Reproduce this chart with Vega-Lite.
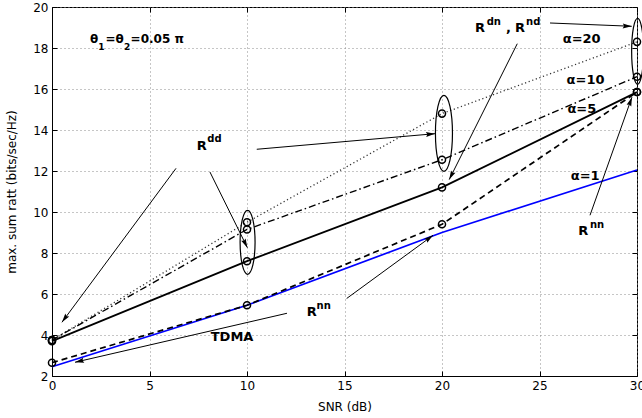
{
  "$schema": "https://vega.github.io/schema/vega-lite/v6.json",
  "width": 585,
  "height": 369,
  "autosize": {"type": "none"},
  "padding": {"left": 52, "top": 7, "right": 5, "bottom": 42},
  "background": "white",
  "config": {
    "view": {"stroke": "black", "strokeWidth": 1},
    "font": "DejaVu Sans",
    "axis": {
      "domainColor": "black",
      "domainWidth": 1,
      "tickColor": "black",
      "tickSize": -5,
      "tickWidth": 1,
      "labelColor": "black",
      "labelFont": "DejaVu Sans",
      "labelFontSize": 12,
      "titleFont": "DejaVu Sans",
      "titleFontSize": 12,
      "titleFontWeight": "normal",
      "titleColor": "black",
      "gridColor": "#8c8c8c",
      "gridDash": [1, 3],
      "gridWidth": 1,
      "gridOpacity": 1,
      "labelFlush": false,
      "labelOverlap": false
    }
  },
  "datasets": {
    "curves": [
      {"snr": 0, "rate": 3.75, "series": "α=20"},
      {"snr": 10, "rate": 9.5, "series": "α=20"},
      {"snr": 20, "rate": 14.8, "series": "α=20"},
      {"snr": 30, "rate": 18.3, "series": "α=20"},
      {"snr": 0, "rate": 3.75, "series": "α=10"},
      {"snr": 10, "rate": 9.15, "series": "α=10"},
      {"snr": 20, "rate": 12.55, "series": "α=10"},
      {"snr": 30, "rate": 16.6, "series": "α=10"},
      {"snr": 0, "rate": 3.7, "series": "α=5"},
      {"snr": 10, "rate": 7.6, "series": "α=5"},
      {"snr": 20, "rate": 11.2, "series": "α=5"},
      {"snr": 30, "rate": 15.85, "series": "α=5"},
      {"snr": 0, "rate": 2.65, "series": "α=1"},
      {"snr": 10, "rate": 5.45, "series": "α=1"},
      {"snr": 20, "rate": 9.4, "series": "α=1"},
      {"snr": 30, "rate": 15.85, "series": "α=1"},
      {"snr": 0, "rate": 2.45, "series": "TDMA"},
      {"snr": 10, "rate": 5.45, "series": "TDMA"},
      {"snr": 20, "rate": 9.0, "series": "TDMA"},
      {"snr": 30, "rate": 12.05, "series": "TDMA"}
    ],
    "rings": [
      {"snr": 10.03, "rate": 8.52, "grp": "a"},
      {"snr": 20.1, "rate": 13.84, "grp": "b"},
      {"snr": 30.03, "rate": 17.84, "grp": "c"}
    ],
    "arrows": [
      {"snr": 6.36, "rate": 12.13, "snr2": 0.51, "rate2": 4.62},
      {"snr": 8.1, "rate": 11.95, "snr2": 10.02, "rate2": 8.26},
      {"snr": 10.5, "rate": 13.06, "snr2": 19.64, "rate2": 13.82},
      {"snr": 23.86, "rate": 18.21, "snr2": 20.37, "rate2": 11.58},
      {"snr": 25.54, "rate": 19.22, "snr2": 29.73, "rate2": 19.06},
      {"snr": 27.59, "rate": 9.84, "snr2": 29.74, "rate2": 15.6},
      {"snr": 15.11, "rate": 5.78, "snr2": 19.54, "rate2": 8.86},
      {"snr": 12.05, "rate": 5.06, "snr2": 1.18, "rate2": 2.67}
    ],
    "notes": [
      {"snr": 7.42, "rate": 13.04, "t": "R", "kind": "main"},
      {"snr": 21.69, "rate": 18.78, "t": "R", "kind": "main"},
      {"snr": 23.28, "rate": 18.78, "t": ",", "kind": "main"},
      {"snr": 23.74, "rate": 18.78, "t": "R", "kind": "main"},
      {"snr": 26.99, "rate": 8.9, "t": "R", "kind": "main"},
      {"snr": 13.06, "rate": 4.91, "t": "R", "kind": "main"},
      {"snr": 8.14, "rate": 3.71, "t": "TDMA", "kind": "main"},
      {"snr": 26.19, "rate": 18.24, "t": "α=20", "kind": "main"},
      {"snr": 26.39, "rate": 16.26, "t": "α=10", "kind": "main"},
      {"snr": 26.43, "rate": 14.83, "t": "α=5", "kind": "main"},
      {"snr": 26.6, "rate": 11.55, "t": "α=1", "kind": "main"},
      {"snr": 7.96, "rate": 13.41, "t": "dd", "kind": "sup"},
      {"snr": 22.29, "rate": 19.12, "t": "dn", "kind": "sup"},
      {"snr": 24.31, "rate": 19.12, "t": "nd", "kind": "sup"},
      {"snr": 27.59, "rate": 9.2, "t": "nn", "kind": "sup"},
      {"snr": 13.57, "rate": 5.29, "t": "nn", "kind": "sup"},
      {"snr": 1.95, "rate": 18.24, "t": "θ", "kind": "theta"},
      {"snr": 2.74, "rate": 18.24, "t": "=θ", "kind": "theta"},
      {"snr": 4.03, "rate": 18.24, "t": "=0.05 π", "kind": "theta"},
      {"snr": 2.37, "rate": 17.92, "t": "1", "kind": "sub"},
      {"snr": 3.69, "rate": 17.92, "t": "2", "kind": "sub"}
    ]
  },
  "resolve": {"axis": {"x": "independent", "y": "independent"}},
  "layer": [
    {
      "encoding": {
        "x": {
          "field": "snr",
          "type": "quantitative",
          "scale": {"domain": [0, 30], "nice": false, "zero": false},
          "axis": {
            "title": "SNR (dB)",
            "values": [0, 5, 10, 15, 20, 25, 30],
            "labelPadding": 9,
            "titleY": 34,
            "titleBaseline": "alphabetic"
          }
        },
        "y": {
          "field": "rate",
          "type": "quantitative",
          "scale": {"domain": [2, 20], "nice": false, "zero": false},
          "axis": {
            "title": "max. sum ratt (bits/sec/Hz)",
            "values": [2, 4, 6, 8, 10, 12, 14, 16, 18, 20],
            "labelPadding": 9,
            "titleAngle": -90,
            "titleX": -37,
            "titleY": 184.5,
            "titleAlign": "center",
            "titleBaseline": "alphabetic"
          }
        }
      },
      "layer": [
        {
          "data": {"name": "curves"},
          "transform": [{"filter": "datum.series === 'α=20'"}],
          "mark": {"type": "line", "color": "#333333", "strokeWidth": 1.3, "strokeDash": [1.2, 2.6], "strokeCap": "butt"}
        },
        {
          "data": {"name": "curves"},
          "transform": [{"filter": "datum.series === 'α=10'"}],
          "mark": {"type": "line", "color": "black", "strokeWidth": 1.4, "strokeDash": [7, 3, 1.5, 3], "strokeCap": "butt"}
        },
        {
          "data": {"name": "curves"},
          "transform": [{"filter": "datum.series === 'TDMA'"}],
          "mark": {"type": "line", "color": "#0000ff", "strokeWidth": 1.7}
        },
        {
          "data": {"name": "curves"},
          "transform": [{"filter": "datum.series === 'α=5'"}],
          "mark": {"type": "line", "color": "black", "strokeWidth": 1.8}
        },
        {
          "data": {"name": "curves"},
          "transform": [{"filter": "datum.series === 'α=1'"}],
          "mark": {"type": "line", "color": "black", "strokeWidth": 1.7, "strokeDash": [6, 4], "strokeCap": "butt"}
        },
        {
          "data": {"name": "curves"},
          "transform": [{"filter": "datum.series !== 'TDMA'"}],
          "mark": {"type": "point", "filled": false, "color": "black", "opacity": 1, "size": 50, "strokeWidth": 1.5}
        },
        {
          "data": {"name": "rings"},
          "transform": [{"filter": "datum.grp === 'a'"}],
          "mark": {
            "type": "point",
            "filled": false,
            "color": "black",
            "opacity": 1,
            "strokeWidth": 1.2,
            "size": 4096,
            "shape": "M0,-1C0.129,-1 0.234,-0.552 0.234,0C0.234,0.552 0.129,1 0,1C-0.129,1 -0.234,0.552 -0.234,0C-0.234,-0.552 -0.129,-1 0,-1Z"
          }
        },
        {
          "data": {"name": "rings"},
          "transform": [{"filter": "datum.grp === 'b'"}],
          "mark": {
            "type": "point",
            "filled": false,
            "color": "black",
            "opacity": 1,
            "strokeWidth": 1.2,
            "size": 5776,
            "shape": "M0,-1C0.124,-1 0.224,-0.552 0.224,0C0.224,0.552 0.124,1 0,1C-0.124,1 -0.224,0.552 -0.224,0C-0.224,-0.552 -0.124,-1 0,-1Z"
          }
        },
        {
          "data": {"name": "rings"},
          "transform": [{"filter": "datum.grp === 'c'"}],
          "mark": {
            "type": "point",
            "filled": false,
            "color": "black",
            "opacity": 1,
            "strokeWidth": 1.2,
            "size": 4356,
            "shape": "M0,-1C0.099,-1 0.18,-0.552 0.18,0C0.18,0.552 0.099,1 0,1C-0.099,1 -0.18,0.552 -0.18,0C-0.18,-0.552 -0.099,-1 0,-1Z"
          }
        },
        {
          "data": {"name": "arrows"},
          "mark": {"type": "rule", "color": "black", "strokeWidth": 1},
          "encoding": {
            "x2": {"field": "snr2"},
            "y2": {"field": "rate2"}
          }
        },
        {
          "data": {"name": "arrows"},
          "transform": [
            {"calculate": "(atan2(19.5 * (datum.snr2 - datum.snr), 20.5 * (datum.rate2 - datum.rate)) * 180 / PI + 360) % 360", "as": "ang"},
            {"calculate": "datum.snr2", "as": "snr"},
            {"calculate": "datum.rate2", "as": "rate"}
          ],
          "mark": {
            "type": "point",
            "filled": true,
            "color": "black",
            "opacity": 1,
            "size": 81,
            "shape": "M0,0L-0.55,2L0,1.7L0.55,2Z"
          },
          "encoding": {
            "angle": {"field": "ang", "type": "quantitative", "scale": null}
          }
        },
        {
          "data": {"name": "notes"},
          "transform": [{"filter": "datum.kind === 'main'"}],
          "mark": {"type": "text", "align": "left", "baseline": "alphabetic", "font": "DejaVu Sans", "fontWeight": "bold", "fontSize": 13, "color": "black"},
          "encoding": {"text": {"field": "t"}}
        },
        {
          "data": {"name": "notes"},
          "transform": [{"filter": "datum.kind === 'sup'"}],
          "mark": {"type": "text", "align": "left", "baseline": "alphabetic", "font": "DejaVu Sans", "fontWeight": "bold", "fontSize": 10, "color": "black"},
          "encoding": {"text": {"field": "t"}}
        },
        {
          "data": {"name": "notes"},
          "transform": [{"filter": "datum.kind === 'theta'"}],
          "mark": {"type": "text", "align": "left", "baseline": "alphabetic", "font": "DejaVu Sans", "fontWeight": "bold", "fontSize": 12, "color": "black"},
          "encoding": {"text": {"field": "t"}}
        },
        {
          "data": {"name": "notes"},
          "transform": [{"filter": "datum.kind === 'sub'"}],
          "mark": {"type": "text", "align": "left", "baseline": "alphabetic", "font": "DejaVu Sans", "fontWeight": "bold", "fontSize": 9, "color": "black"},
          "encoding": {"text": {"field": "t"}}
        }
      ]
    },
    {
      "data": {"name": "curves"},
      "mark": {"type": "point", "opacity": 0},
      "encoding": {
        "x": {
          "field": "snr",
          "type": "quantitative",
          "scale": {"domain": [0, 30], "nice": false, "zero": false},
          "axis": {"orient": "top", "title": null, "labels": false, "grid": false, "domain": false, "values": [0, 5, 10, 15, 20, 25, 30]}
        },
        "y": {
          "field": "rate",
          "type": "quantitative",
          "scale": {"domain": [2, 20], "nice": false, "zero": false},
          "axis": {"orient": "right", "title": null, "labels": false, "grid": false, "domain": false, "values": [2, 4, 6, 8, 10, 12, 14, 16, 18, 20]}
        }
      }
    }
  ]
}
